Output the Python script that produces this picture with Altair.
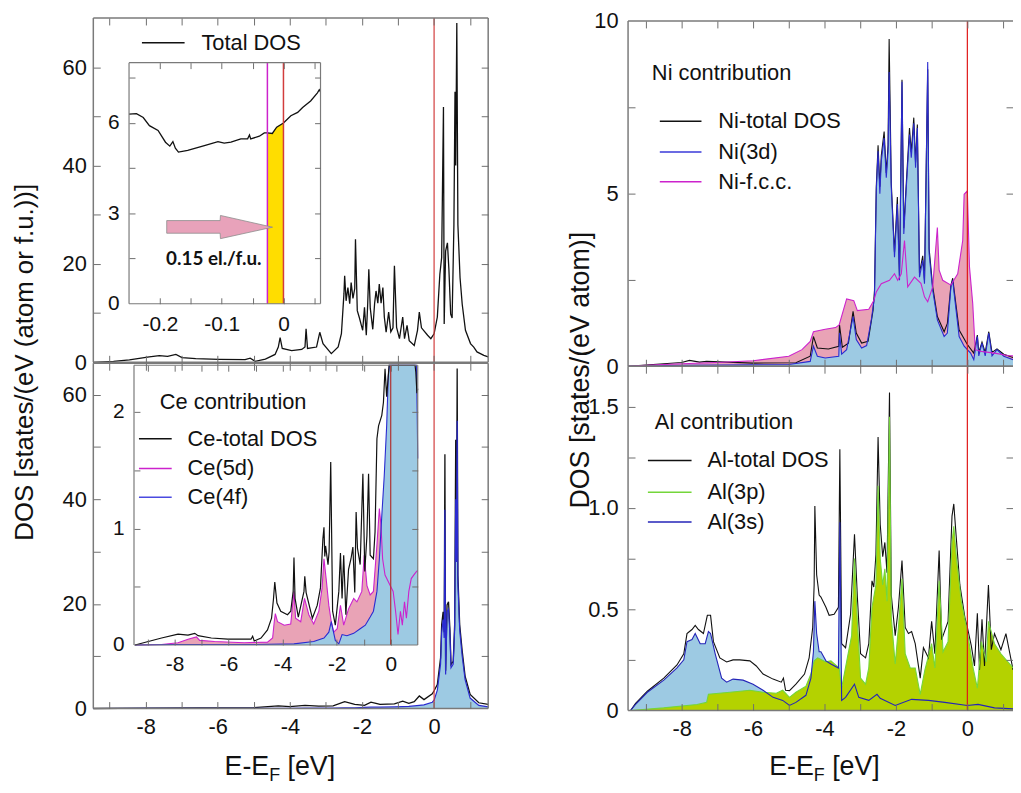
import altair as alt
import pandas as pd

W, H = 1013, 777
FONT = "Liberation Sans"
TICK_C = "#6e6e6e"
FRAME_C = "#7a7a7a"
RED = "#d23c3c"
BLACK = "#111111"
BLUE = "#2b2bd0"
MAGENTA = "#cc22cc"
PINK_FILL = "#e9a3b6"
BLUE_FILL = "#9dcae3"
GREEN_LINE = "#74d63a"
GREEN_FILL = "#b4d200"
YELLOW = "#ffdd00"
ARROW_FILL = "#e8a2ba"

# ---------------- data (E - E_F [eV], DOS) ----------------
TOTAL_DOS = [(-9.45, 0.0), (-8.89, 0.2), (-8.45, 0.5), (-7.9, 1.1), (-7.62, 1.35), (-7.39, 1.2), (-7.16, 1.6),
             (-6.99, 0.95), (-6.61, 0.74), (-5.97, 0.6), (-5.24, 0.55), (-5.1, 0.85), (-4.96, 0.2), (-4.68, 0.65),
             (-4.41, 1.6), (-4.32, 3.1), (-4.27, 5.0), (-4.21, 2.8), (-3.95, 2.35), (-3.67, 2.6), (-3.58, 3.1),
             (-3.55, 6.8), (-3.51, 2.8), (-3.26, 3.1), (-3.17, 6.1), (-3.08, 3.8), (-2.85, 1.75), (-2.66, 3.1),
             (-2.57, 5.8), (-2.5, 13.9), (-2.48, 17.6), (-2.44, 12.5), (-2.39, 15.2), (-2.34, 11.9), (-2.3, 16.2),
             (-2.25, 13.0), (-2.2, 15.0), (-2.18, 25.0), (-2.13, 10.5), (-2.07, 9.0), (-1.98, 6.5), (-1.93, 11.2),
             (-1.88, 5.5), (-1.84, 12.0), (-1.81, 18.9), (-1.77, 11.0), (-1.7, 6.7), (-1.65, 11.9), (-1.61, 14.5),
             (-1.56, 12.0), (-1.52, 15.9), (-1.47, 12.0), (-1.42, 15.2), (-1.38, 9.2), (-1.33, 6.1), (-1.26, 10.2),
             (-1.2, 6.2), (-1.14, 7.0), (-1.1, 19.6), (-1.04, 7.1), (-0.96, 4.8), (-0.87, 9.2), (-0.82, 4.8),
             (-0.75, 7.5), (-0.69, 4.4), (-0.55, 3.4), (-0.46, 6.5), (-0.41, 10.2), (-0.35, 7.0), (-0.18, 5.5),
             (-0.09, 4.8), (0.0, 5.8), (0.09, 9.2), (0.16, 17.9), (0.21, 21.3), (0.26, 51.9), (0.28, 7.8),
             (0.32, 22.6), (0.37, 24.3), (0.41, 19.0), (0.46, 9.8), (0.5, 9.0), (0.55, 28.0), (0.58, 55.0),
             (0.6, 40.0), (0.63, 69.0), (0.66, 28.0), (0.72, 17.2), (0.78, 11.8), (0.87, 6.5), (1.01, 3.8),
             (1.1, 3.1), (1.19, 2.1), (1.38, 1.4), (1.5, 1.1)]

TOTAL_ZOOM = [(-0.25, 6.29), (-0.238, 6.31), (-0.227, 6.18), (-0.217, 5.91), (-0.203, 5.75), (-0.191, 5.36),
              (-0.184, 5.23), (-0.179, 5.38), (-0.175, 5.16), (-0.17, 5.03), (-0.155, 5.09), (-0.128, 5.25),
              (-0.106, 5.38), (-0.096, 5.33), (-0.085, 5.36), (-0.069, 5.47), (-0.058, 5.47), (-0.055, 5.6),
              (-0.053, 5.47), (-0.039, 5.56), (-0.031, 5.67), (-0.026, 5.67), (-0.018, 5.65), (-0.011, 5.86),
              (0.0, 6.0), (0.012, 6.24), (0.023, 6.35), (0.031, 6.51), (0.044, 6.73), (0.055, 7.0), (0.058, 7.1),
              (0.06, 7.03)]
SHIFT_E = [-0.026, 0.0]            # shifted Fermi level, E_F
ARROW = [(-0.189, 2.76, 2.34), (-0.1025, 2.76, 2.34), (-0.102, 2.93, 2.16), (-0.0177, 2.54, 2.54)]
ARROW_LABEL = "0.15 el./f.u."

CE_TOTAL = [(-9.45, 0.0), (-8.0, 0.08), (-6.5, 0.1), (-5.0, 0.15), (-4.32, 0.5), (-4.0, 0.35), (-3.58, 0.6),
            (-3.2, 0.45), (-2.8, 0.5), (-2.48, 1.3), (-2.2, 0.8), (-1.93, 0.6), (-1.75, 1.2), (-1.5, 0.8),
            (-1.1, 0.9), (-0.87, 1.4), (-0.7, 1.0), (-0.55, 1.3), (-0.41, 2.4), (-0.28, 1.7), (-0.05, 2.8),
            (0.0, 3.4), (0.09, 4.6), (0.18, 9.7), (0.21, 16.0), (0.25, 18.5), (0.28, 14.6), (0.3, 48.6),
            (0.32, 7.2), (0.36, 19.8), (0.4, 20.4), (0.44, 15.0), (0.47, 8.4), (0.53, 9.0), (0.57, 16.0),
            (0.6, 51.4), (0.62, 30.0), (0.64, 65.0), (0.66, 25.5), (0.71, 16.0), (0.78, 11.0), (0.86, 6.2),
            (1.0, 2.7), (1.24, 1.1), (1.5, 0.8)]
CE_4F = [(-9.45, 0.0), (-8.0, 0.01), (-6.5, 0.02), (-5.0, 0.03), (-4.32, 0.05), (-4.0, 0.05), (-3.58, 0.08),
         (-3.2, 0.1), (-2.8, 0.1), (-2.48, 0.15), (-2.2, 0.15), (-1.93, 0.2), (-1.75, 0.25), (-1.5, 0.25),
         (-1.1, 0.3), (-0.87, 0.35), (-0.7, 0.4), (-0.55, 0.5), (-0.41, 0.6), (-0.28, 0.7), (-0.05, 1.2),
         (0.0, 1.6), (0.09, 3.5), (0.18, 8.5), (0.21, 14.5), (0.25, 17.0), (0.28, 13.5), (0.3, 38.0),
         (0.32, 6.5), (0.36, 18.5), (0.4, 19.0), (0.44, 14.0), (0.47, 7.8), (0.53, 8.5), (0.57, 15.0),
         (0.6, 40.0), (0.62, 28.0), (0.64, 55.0), (0.66, 24.0), (0.71, 15.0), (0.78, 10.0), (0.86, 5.5),
         (1.0, 2.0), (1.24, 0.6), (1.5, 0.3)]

CE_TOTAL_ZOOM = [(-9.46, 0.0), (-8.97, 0.03), (-8.48, 0.06), (-7.87, 0.094), (-7.5, 0.085), (-7.25, 0.1),
                 (-7.13, 0.08), (-6.64, 0.06), (-6.03, 0.05), (-5.17, 0.05), (-5.11, 0.075), (-5.05, 0.035),
                 (-4.8, 0.06), (-4.56, 0.13), (-4.41, 0.23), (-4.34, 0.39), (-4.29, 0.54), (-4.21, 0.36),
                 (-4.07, 0.29), (-3.82, 0.26), (-3.7, 0.29), (-3.61, 0.46), (-3.58, 0.75), (-3.54, 0.4),
                 (-3.42, 0.24), (-3.21, 0.46), (-3.18, 0.59), (-3.13, 0.45), (-2.9, 0.23), (-2.72, 0.34),
                 (-2.6, 0.49), (-2.51, 0.91), (-2.47, 1.01), (-2.44, 0.76), (-2.41, 0.85), (-2.32, 0.69),
                 (-2.28, 0.8), (-2.22, 1.57), (-2.15, 0.29), (-2.05, 0.17), (-1.92, 0.46), (-1.86, 0.79),
                 (-1.8, 0.4), (-1.74, 0.77), (-1.66, 0.26), (-1.56, 0.65), (-1.47, 0.74), (-1.4, 0.84),
                 (-1.33, 0.45), (-1.28, 1.14), (-1.23, 0.83), (-1.13, 0.69), (-1.03, 1.47), (-0.96, 0.63),
                 (-0.88, 0.94), (-0.82, 1.47), (-0.76, 0.77), (-0.64, 0.74), (-0.58, 0.97), (-0.51, 1.77),
                 (-0.45, 1.88), (-0.33, 1.97), (-0.27, 2.08), (-0.21, 2.37), (-0.15, 2.13), (-0.06, 2.6),
                 (0.5, 3.0), (0.9, 2.6), (0.93, 2.34), (0.97, 2.16), (1.0, 2.2)]
CE_5D_ZOOM = [(-9.46, 0.0), (-8.48, 0.005), (-7.87, 0.02), (-7.5, 0.05), (-7.19, 0.07), (-7.07, 0.04),
              (-6.52, 0.03), (-5.42, 0.02), (-4.56, 0.025), (-4.37, 0.06), (-4.31, 0.2), (-4.27, 0.27),
              (-4.19, 0.2), (-3.94, 0.17), (-3.7, 0.18), (-3.58, 0.46), (-3.52, 0.23), (-3.33, 0.2),
              (-3.19, 0.4), (-3.03, 0.26), (-2.85, 0.18), (-2.66, 0.29), (-2.54, 0.49), (-2.47, 0.74),
              (-2.39, 0.57), (-2.29, 0.34), (-2.2, 0.2), (-2.11, 0.11), (-1.98, 0.14), (-1.86, 0.34),
              (-1.74, 0.17), (-1.56, 0.31), (-1.37, 0.4), (-1.25, 0.37), (-1.07, 0.46), (-0.98, 0.77),
              (-0.88, 0.51), (-0.76, 0.43), (-0.64, 0.46), (-0.51, 0.86), (-0.42, 1.17), (-0.36, 1.03),
              (-0.3, 0.74), (-0.21, 0.6), (-0.02, 0.51), (0.09, 0.46), (0.18, 0.29), (0.27, 0.09), (0.36, 0.29),
              (0.43, 0.17), (0.51, 0.37), (0.58, 0.23), (0.67, 0.46), (0.76, 0.57), (0.85, 0.6), (0.95, 0.63),
              (1.0, 0.64)]
CE_4F_ZOOM = [(-9.46, 0.0), (-8.0, 0.005), (-5.0, 0.005), (-3.58, 0.01), (-2.85, 0.03), (-2.47, 0.06),
              (-2.29, 0.11), (-2.2, 0.2), (-2.05, 0.04), (-1.92, 0.01), (-1.8, 0.09), (-1.62, 0.08),
              (-1.37, 0.1), (-1.13, 0.14), (-0.94, 0.17), (-0.76, 0.24), (-0.64, 0.29), (-0.51, 0.46),
              (-0.42, 0.74), (-0.33, 1.11), (-0.24, 1.45), (-0.15, 1.88), (-0.09, 2.31), (-0.05, 2.6),
              (0.5, 3.0), (0.95, 2.6), (0.98, 2.0), (1.0, 1.6)]

NI_FCC = [(-9.5, 0.0), (-9.0, 0.03), (-8.0, 0.07), (-7.0, 0.11), (-6.0, 0.16), (-5.0, 0.29), (-4.63, 0.48),
          (-4.4, 0.72), (-4.31, 1.0), (-3.98, 1.07), (-3.69, 1.12), (-3.59, 1.2), (-3.38, 1.95), (-3.18, 1.9),
          (-3.08, 1.61), (-2.76, 1.65), (-2.62, 1.9), (-2.55, 2.15), (-2.41, 2.39), (-2.18, 2.49),
          (-2.04, 2.68), (-1.95, 2.49), (-1.85, 2.68), (-1.76, 3.64), (-1.67, 2.3), (-1.48, 2.58),
          (-1.3, 2.4), (-1.2, 2.01), (-1.11, 1.87), (-0.97, 2.3), (-0.84, 4.02), (-0.79, 2.78), (-0.69, 2.49),
          (-0.46, 2.35), (-0.27, 2.68), (-0.13, 3.64), (-0.09, 4.98), (0.0, 5.08), (0.06, 2.87), (0.15, 1.82),
          (0.22, 0.48), (0.39, 0.43), (0.76, 0.38), (1.13, 0.31), (1.28, 0.3)]
NI_3D = [(-9.5, 0.0), (-8.0, 0.03), (-6.0, 0.04), (-5.0, 0.05), (-4.4, 0.14), (-4.31, 0.58), (-4.2, 0.29),
         (-3.98, 0.24), (-3.6, 0.29), (-3.58, 0.96), (-3.52, 0.35), (-3.38, 0.48), (-3.2, 1.44), (-3.11, 0.77),
         (-2.96, 0.53), (-2.82, 0.6), (-2.69, 1.34), (-2.6, 2.01), (-2.55, 5.08), (-2.5, 6.23), (-2.45, 5.0),
         (-2.41, 5.94), (-2.33, 6.61), (-2.27, 5.46), (-2.22, 6.23), (-2.19, 8.52), (-2.13, 5.17),
         (-2.04, 3.16), (-1.96, 4.7), (-1.9, 2.49), (-1.83, 8.24), (-1.78, 3.83), (-1.71, 5.17),
         (-1.62, 6.71), (-1.57, 6.04), (-1.5, 7.04), (-1.45, 5.75), (-1.4, 6.9), (-1.34, 2.58), (-1.25, 3.07),
         (-1.2, 2.39), (-1.11, 8.81), (-1.07, 3.26), (-0.97, 2.2), (-0.84, 1.34), (-0.65, 0.86),
         (-0.56, 0.96), (-0.46, 2.3), (-0.41, 2.49), (-0.37, 2.11), (-0.23, 0.86), (-0.09, 0.58),
         (0.09, 0.38), (0.18, 0.19), (0.28, 0.86), (0.32, 0.3), (0.41, 0.67), (0.5, 0.3), (0.6, 0.96),
         (0.69, 0.3), (0.83, 0.48), (1.02, 0.29), (1.28, 0.19)]
NI_TOTAL = [(-9.5, 0.0), (-8.0, 0.11), (-7.78, 0.17), (-7.5, 0.12), (-7.3, 0.14), (-6.0, 0.09), (-4.8, 0.1),
            (-4.4, 0.29), (-4.31, 0.86), (-4.2, 0.53), (-3.89, 0.5), (-3.6, 0.58), (-3.58, 1.2), (-3.5, 0.55),
            (-3.33, 0.67), (-3.2, 1.59), (-3.11, 0.96), (-2.96, 0.67), (-2.78, 0.72), (-2.64, 1.62),
            (-2.6, 2.2), (-2.55, 5.2), (-2.5, 6.4), (-2.45, 5.2), (-2.41, 6.1), (-2.33, 6.8), (-2.27, 5.6),
            (-2.22, 6.4), (-2.19, 9.48), (-2.13, 5.3), (-2.04, 3.3), (-1.96, 4.9), (-1.9, 2.6), (-1.83, 8.3),
            (-1.78, 4.0), (-1.71, 5.3), (-1.62, 6.9), (-1.57, 6.2), (-1.5, 7.2), (-1.45, 5.9), (-1.4, 7.0),
            (-1.34, 2.7), (-1.25, 3.2), (-1.2, 2.5), (-1.11, 8.6), (-1.07, 3.4), (-0.97, 2.3), (-0.84, 1.44),
            (-0.65, 1.0), (-0.56, 1.24), (-0.46, 2.35), (-0.41, 2.55), (-0.37, 2.2), (-0.23, 1.05),
            (0.0, 0.63), (0.18, 0.38), (0.28, 0.9), (0.32, 0.4), (0.41, 0.7), (0.5, 0.4), (0.6, 1.0),
            (0.69, 0.4), (0.83, 0.5), (1.02, 0.35), (1.28, 0.25)]

AL_TOTAL = [(-9.43, 0.0), (-9.29, 0.035), (-8.96, 0.095), (-8.5, 0.16), (-8.13, 0.225), (-7.94, 0.28),
            (-7.85, 0.38), (-7.78, 0.39), (-7.71, 0.4), (-7.62, 0.42), (-7.53, 0.4), (-7.39, 0.38),
            (-7.28, 0.47), (-7.19, 0.47), (-7.11, 0.34), (-6.93, 0.26), (-6.74, 0.24), (-6.56, 0.25),
            (-6.37, 0.25), (-6.09, 0.245), (-5.91, 0.22), (-5.72, 0.18), (-5.44, 0.155), (-5.21, 0.14),
            (-5.15, 0.16), (-5.09, 0.1), (-4.98, 0.098), (-4.8, 0.13), (-4.56, 0.18), (-4.43, 0.26),
            (-4.33, 0.41), (-4.29, 0.62), (-4.27, 1.01), (-4.22, 0.67), (-4.15, 0.57), (-4.1, 0.56),
            (-3.96, 0.51), (-3.87, 0.47), (-3.73, 0.475), (-3.61, 0.51), (-3.57, 1.29), (-3.52, 0.33),
            (-3.41, 0.31), (-3.27, 0.475), (-3.16, 0.87), (-3.08, 0.56), (-2.99, 0.28), (-2.85, 0.26),
            (-2.76, 0.33), (-2.67, 0.64), (-2.62, 0.61), (-2.56, 0.77), (-2.5, 1.35), (-2.44, 0.92),
            (-2.37, 0.76), (-2.31, 0.83), (-2.25, 0.68), (-2.18, 1.57), (-2.13, 0.57), (-2.02, 0.37),
            (-1.93, 0.51), (-1.83, 0.74), (-1.74, 0.41), (-1.65, 0.38), (-1.56, 0.39), (-1.46, 0.33),
            (-1.32, 0.16), (-1.23, 0.31), (-1.09, 0.26), (-1.0, 0.44), (-0.91, 0.28), (-0.79, 0.79),
            (-0.72, 0.35), (-0.54, 0.44), (-0.43, 0.96), (-0.38, 1.02), (-0.33, 0.9), (-0.21, 0.62),
            (-0.07, 0.46), (0.0, 0.41), (0.11, 0.32), (0.2, 0.22), (0.28, 0.48), (0.34, 0.2), (0.41, 0.45),
            (0.48, 0.22), (0.59, 0.62), (0.67, 0.3), (0.76, 0.38), (0.94, 0.3), (1.08, 0.38), (1.28, 0.2)]
AL_3P = [(-9.43, 0.0), (-8.5, 0.013), (-7.57, 0.03), (-7.3, 0.04), (-7.25, 0.08), (-6.65, 0.09), (-6.09, 0.1),
         (-5.72, 0.09), (-5.35, 0.085), (-5.17, 0.1), (-4.98, 0.065), (-4.8, 0.09), (-4.52, 0.12),
         (-4.38, 0.18), (-4.29, 0.245), (-4.19, 0.26), (-3.96, 0.24), (-3.82, 0.245), (-3.59, 0.21),
         (-3.52, 0.11), (-3.36, 0.26), (-3.24, 0.37), (-3.16, 0.75), (-3.08, 0.44), (-2.99, 0.16),
         (-2.85, 0.13), (-2.76, 0.21), (-2.67, 0.51), (-2.56, 0.62), (-2.5, 1.11), (-2.44, 0.75),
         (-2.37, 0.62), (-2.31, 0.7), (-2.25, 0.54), (-2.18, 1.45), (-2.13, 0.46), (-2.02, 0.23),
         (-1.93, 0.41), (-1.83, 0.65), (-1.74, 0.28), (-1.6, 0.21), (-1.46, 0.21), (-1.32, 0.08),
         (-1.19, 0.2), (-1.0, 0.33), (-0.91, 0.21), (-0.79, 0.64), (-0.68, 0.29), (-0.54, 0.34),
         (-0.43, 0.83), (-0.38, 0.91), (-0.31, 0.76), (-0.17, 0.54), (0.0, 0.39), (0.16, 0.21),
         (0.28, 0.11), (0.39, 0.34), (0.53, 0.24), (0.59, 0.44), (0.76, 0.33), (0.94, 0.28), (1.28, 0.21)]
AL_3S = [(-9.43, 0.0), (-9.29, 0.03), (-8.96, 0.09), (-8.5, 0.15), (-8.13, 0.21), (-7.94, 0.25), (-7.85, 0.34),
         (-7.71, 0.35), (-7.62, 0.38), (-7.48, 0.33), (-7.34, 0.33), (-7.25, 0.39), (-7.19, 0.38),
         (-7.06, 0.28), (-6.88, 0.16), (-6.74, 0.14), (-6.56, 0.155), (-6.28, 0.15), (-6.0, 0.13),
         (-5.72, 0.1), (-5.44, 0.065), (-5.17, 0.05), (-4.98, 0.025), (-4.8, 0.04), (-4.52, 0.075),
         (-4.38, 0.16), (-4.31, 0.29), (-4.27, 0.54), (-4.22, 0.38), (-4.15, 0.29), (-4.1, 0.29),
         (-3.96, 0.245), (-3.82, 0.23), (-3.61, 0.21), (-3.57, 0.93), (-3.52, 0.05), (-3.41, 0.065),
         (-3.16, 0.13), (-3.04, 0.065), (-2.76, 0.05), (-2.53, 0.08), (-2.44, 0.06), (-2.02, 0.025),
         (-1.56, 0.055), (-1.09, 0.05), (-0.63, 0.04), (0.0, 0.025), (0.3, 0.03), (0.76, 0.013), (1.28, 0.008)]

# tick values and labels
X_TICKS = list(range(-9, 2))
X_LABELS = [-8, -6, -4, -2, 0]
TL_YTICKS = [10, 20, 30, 40, 50, 60]
BL_YTICKS = [10, 20, 30, 40, 50, 60]
MAIN_YLABELS = [0, 20, 40, 60]
NI_YTICKS = [2.5, 5, 7.5]
NI_YLABELS = [0, 5, 10]
AL_YTICKS = [0.25, 0.5, 0.75, 1.0, 1.25, 1.5]
AL_YLABELS = [0, 0.5, 1.0, 1.5]
IT_XTICKS = [-0.2, -0.15, -0.1, -0.05, 0, 0.05]
IT_XLABELS = [-0.2, -0.1, 0]
IT_YTICKS = [1.5, 3, 4.5, 6, 7.5]
IT_YLABELS = [0, 3, 6]
IB_XTICKS = list(range(-9, 1))
IB_YTICKS = [0.5, 1.0, 1.5, 2.0]
IB_YLABELS = [0, 1, 2]

# ---------------- panel geometry (domain -> pixel range) ----------------
P_TL = dict(xd=[-9.45, 1.5], xr=[86, 484], yd=[0, 70], yr=[354, 7])
P_BL = dict(xd=[-9.45, 1.5], xr=[86, 484], yd=[0, 66], yr=[703, 355])
P_TR = dict(xd=[-9.5, 1.278], xr=[625, 1013], yd=[0, 10], yr=[358, 10])
P_BR = dict(xd=[-9.5, 1.278], xr=[625, 1013], yd=[0, 1.7], yr=[705, 358])
P_IT = dict(xd=[-0.25, 0.06], xr=[122, 315], yd=[0, 8], yr=[295, 52])
P_IB = dict(xd=[-9.5, 1.0], xr=[127, 413], yd=[0, 2.4], yr=[639, 357])


def sc(d, r):
    return alt.Scale(domain=d, range=r, nice=False, zero=False)


def xenc(P, f="E:Q"):
    return alt.X(f, scale=sc(P["xd"], P["xr"]), axis=None)


def yenc(P, f="v:Q"):
    return alt.Y(f, scale=sc(P["yd"], P["yr"]), axis=None)


def curve(P, pairs, color, kind="line", width=1.2):
    top = P["yd"][1]
    base = alt.Chart(pd.DataFrame(pairs, columns=["E", "v"])).transform_calculate(
        vc=f"min(datum.v, {top})", z="0")
    if kind == "line":
        return base.mark_line(color=color, strokeWidth=width).encode(x=xenc(P), y=yenc(P, "vc:Q"))
    return base.mark_area(color=color, opacity=1).encode(x=xenc(P), y=yenc(P, "vc:Q"), y2="z:Q")


def vline(P, e0, color, width=1.2):
    d = pd.DataFrame({"E": [e0], "ya": [P["yd"][0]], "yb": [P["yd"][1]]})
    return alt.Chart(d).mark_rule(color=color, strokeWidth=width).encode(
        x=xenc(P), y=yenc(P, "ya:Q"), y2="yb:Q")


def frame(P, sides="lrtb", color=FRAME_C, width=1.5):
    (x0, x1), (y0, y1) = P["xd"], P["yd"]
    segs = {"l": (x0, x0, y0, y1), "r": (x1, x1, y0, y1), "b": (x0, x1, y0, y0), "t": (x0, x1, y1, y1)}
    d = pd.DataFrame([segs[s] for s in sides], columns=["E", "E2", "ya", "yb"])
    return alt.Chart(d).mark_rule(color=color, strokeWidth=width).encode(
        x=xenc(P), x2="E2:Q", y=yenc(P, "ya:Q"), y2="yb:Q")


def panel_bg(P):
    d = pd.DataFrame({"E": [P["xd"][0]], "E2": [P["xd"][1]], "ya": [P["yd"][0]], "yb": [P["yd"][1]]})
    return alt.Chart(d).mark_rect(color="white").encode(x=xenc(P), x2="E2:Q", y=yenc(P, "ya:Q"), y2="yb:Q")


def axis_set(P, xt, yt, xl=None, yl=None, lsize=22, xpad=8, ypad=8, tsize=7,
             xexpr="'' + datum.value", yexpr="'' + datum.value"):
    (xa, xb), (ybp, ytp) = P["xr"], P["yr"]
    d = pd.DataFrame({"E": [P["xd"][0]], "v": [P["yd"][0]]})
    base = alt.Chart(d).mark_point(opacity=0)
    xs, ys = sc(P["xd"], P["xr"]), sc(P["yd"], P["yr"])
    com = dict(domain=False, grid=False, title=None, zindex=1, labelFlush=False, labelOverlap=False)
    tk = dict(labels=False, tickSize=tsize, tickColor=TICK_C, tickWidth=1, **com)
    lb = dict(ticks=False, labelFont=FONT, labelFontSize=lsize, labelColor=BLACK, **com)
    out = [
        base.encode(x=alt.X("E:Q", scale=xs, axis=alt.Axis(orient="top", offset=-ybp, values=xt, **tk)),
                    y=alt.Y("v:Q", scale=ys, axis=alt.Axis(orient="right", offset=xa - W, values=yt, **tk))),
        base.encode(x=alt.X("E:Q", scale=xs, axis=alt.Axis(orient="bottom", offset=ytp - H, values=xt, **tk)),
                    y=alt.Y("v:Q", scale=ys, axis=alt.Axis(orient="left", offset=-xb, values=yt, **tk))),
    ]
    if xl or yl:
        xax = alt.Axis(orient="bottom", offset=ybp - H, values=xl, labelPadding=xpad, labelExpr=xexpr, **lb) if xl else None
        yax = alt.Axis(orient="left", offset=-xa, values=yl, labelPadding=ypad, labelExpr=yexpr, **lb) if yl else None
        out.append(base.encode(x=alt.X("E:Q", scale=xs, axis=xax), y=alt.Y("v:Q", scale=ys, axis=yax)))
    return out


def text_at(t, x, y, size, align="left", baseline="middle", angle=0, weight="normal", font=FONT, color=BLACK):
    return alt.Chart(pd.DataFrame({"t": [t]})).mark_text(
        align=align, baseline=baseline, angle=angle, fontSize=size, fontWeight=weight, font=font, color=color
    ).encode(x=alt.value(x), y=alt.value(y), text="t:N")


def seg(x0, x1, y, color, width=1.5):
    return alt.Chart(pd.DataFrame({"k": [0]})).mark_rule(color=color, strokeWidth=width).encode(
        x=alt.value(x0), x2=alt.value(x1), y=alt.value(y))


def legend(title, txy, entries, lx, tx, ys, size=22):
    out = []
    if title:
        out.append(text_at(title, txy[0], txy[1], size))
    for (lab, col), y in zip(entries, ys):
        out.append(seg(lx[0], lx[1], y, col))
        out.append(text_at(lab, tx, y, size))
    return out


def xtitle(cx, by, size=27, sub=18):
    wE, wF, sp, wB = 1.667 * size, 0.611 * sub, 0.278 * size, 1.779 * size
    s = cx - (wE + wF + sp + wB) / 2
    return [text_at("E-E", s + wE, by, size, align="right", baseline="alphabetic"),
            text_at("F", s + wE, by + 6, sub, baseline="alphabetic"),
            text_at("[eV]", s + wE + wF + sp, by, size, baseline="alphabetic")]


layers = []
# ---- top left: total DOS ----
layers += [curve(P_TL, TOTAL_DOS, BLACK, width=1.3), vline(P_TL, 0.0, RED), frame(P_TL)]
layers += axis_set(P_TL, X_TICKS, TL_YTICKS, yl=MAIN_YLABELS, ypad=7)
layers += legend(None, None, [("Total DOS", BLACK)], (135, 178), 195, [32])
# inset: zoom near E_F
d_fill = pd.DataFrame(TOTAL_ZOOM, columns=["E", "v"])
layers += [panel_bg(P_IT),
           alt.Chart(d_fill).transform_filter(f"datum.E >= {SHIFT_E[0]} - 1e-6 && datum.E <= {SHIFT_E[1]} + 1e-6")
           .transform_calculate(z="0").mark_area(color=YELLOW, opacity=1)
           .encode(x=xenc(P_IT), y=yenc(P_IT), y2="z:Q"),
           curve(P_IT, TOTAL_ZOOM, BLACK, width=1.3),
           vline(P_IT, SHIFT_E[0], MAGENTA, 1.5), vline(P_IT, SHIFT_E[1], RED, 1.5),
           alt.Chart(pd.DataFrame(ARROW, columns=["E", "top", "bot"])).mark_area(
               color=ARROW_FILL, stroke="#8c8c8c", strokeWidth=0.8, opacity=1)
           .encode(x=xenc(P_IT), y=yenc(P_IT, "top:Q"), y2="bot:Q"),
           alt.Chart(pd.DataFrame({"E": [-0.19], "v": [1.47], "t": [ARROW_LABEL]})).mark_text(
               align="left", baseline="middle", font="Lato", fontWeight="bold", fontSize=19, color=BLACK)
           .encode(x=xenc(P_IT), y=yenc(P_IT), text="t:N"),
           frame(P_IT, width=1.2)]
layers += axis_set(P_IT, IT_XTICKS, IT_YTICKS, xl=IT_XLABELS, yl=IT_YLABELS, lsize=21, xpad=10, ypad=10, tsize=6)

# ---- bottom left: Ce contribution ----
layers += [curve(P_BL, CE_4F, BLUE_FILL, kind="area"), curve(P_BL, CE_TOTAL, BLACK, width=1.3),
           curve(P_BL, CE_4F, BLUE, width=1.2), vline(P_BL, 0.0, RED), frame(P_BL)]
layers += axis_set(P_BL, X_TICKS, BL_YTICKS, xl=X_LABELS, yl=MAIN_YLABELS, lsize=22, xpad=8, ypad=7)
layers += [panel_bg(P_IB), curve(P_IB, CE_5D_ZOOM, PINK_FILL, kind="area"),
           curve(P_IB, CE_4F_ZOOM, BLUE_FILL, kind="area"),
           curve(P_IB, CE_5D_ZOOM, MAGENTA, width=1.1), curve(P_IB, CE_4F_ZOOM, BLUE, width=1.1),
           curve(P_IB, CE_TOTAL_ZOOM, BLACK, width=1.2), vline(P_IB, 0.0, "#b03030", 1.2), frame(P_IB, width=1.2)]
layers += axis_set(P_IB, IB_XTICKS, IB_YTICKS, xl=X_LABELS, yl=IB_YLABELS, lsize=21, xpad=9, ypad=10, tsize=6)
layers += legend("Ce contribution", (153, 394),
                 [("Ce-total DOS", BLACK), ("Ce(5d)", MAGENTA), ("Ce(4f)", "#4a4ae0")],
                 (132, 165), 181, [431, 461, 490])

# ---- top right: Ni contribution ----
layers += [curve(P_TR, NI_FCC, PINK_FILL, kind="area"), curve(P_TR, NI_3D, BLUE_FILL, kind="area"),
           curve(P_TR, NI_TOTAL, BLACK, width=1.1), curve(P_TR, NI_3D, BLUE, width=1.1),
           curve(P_TR, NI_FCC, MAGENTA, width=1.1), vline(P_TR, 0.0, "#e01818"), frame(P_TR, "ltb")]
layers += axis_set(P_TR, X_TICKS, NI_YTICKS, yl=NI_YLABELS, ypad=10)
layers += legend("Ni contribution", (649, 62),
                 [("Ni-total DOS", BLACK), ("Ni(3d)", "#3a3ad8"), ("Ni-f.c.c.", MAGENTA)],
                 (657, 699), 716, [111, 142, 172])

# ---- bottom right: Al contribution ----
layers += [curve(P_BR, AL_3S, BLUE_FILL, kind="area"), curve(P_BR, AL_3P, GREEN_FILL, kind="area"),
           curve(P_BR, AL_TOTAL, BLACK, width=1.1), curve(P_BR, AL_3P, GREEN_LINE, width=1.1),
           curve(P_BR, AL_3S, "#2424b8", width=1.1), vline(P_BR, 0.0, "#e01818"), frame(P_BR, "ltb")]
layers += axis_set(P_BR, X_TICKS, AL_YTICKS, xl=X_LABELS, yl=AL_YLABELS, ypad=10, xpad=8,
                   yexpr="datum.value == 1 ? '1.0' : '' + datum.value")
layers += legend("Al contribution", (652, 414),
                 [("Al-total DOS", BLACK), ("Al(3p)", GREEN_LINE), ("Al(3s)", "#2424b8")],
                 (645, 689), 705, [453, 485, 515])

# ---- axis titles ----
layers += [text_at("DOS [states/(eV (atom or f.u.))]", 17, 354, 26, align="center", angle=270),
           text_at("DOS [states/(eV atom)]", 578, 362, 27, align="center", angle=270)]
layers += xtitle(274, 770)
layers += xtitle(823, 770)

chart = alt.layer(*layers).resolve_scale(x="independent", y="independent").properties(
    width=W, height=H, padding=0, autosize=alt.AutoSizeParams(type="none")
).configure_view(stroke=None)

chart.save("out.html", embed_options={"renderer": "svg", "actions": False})
